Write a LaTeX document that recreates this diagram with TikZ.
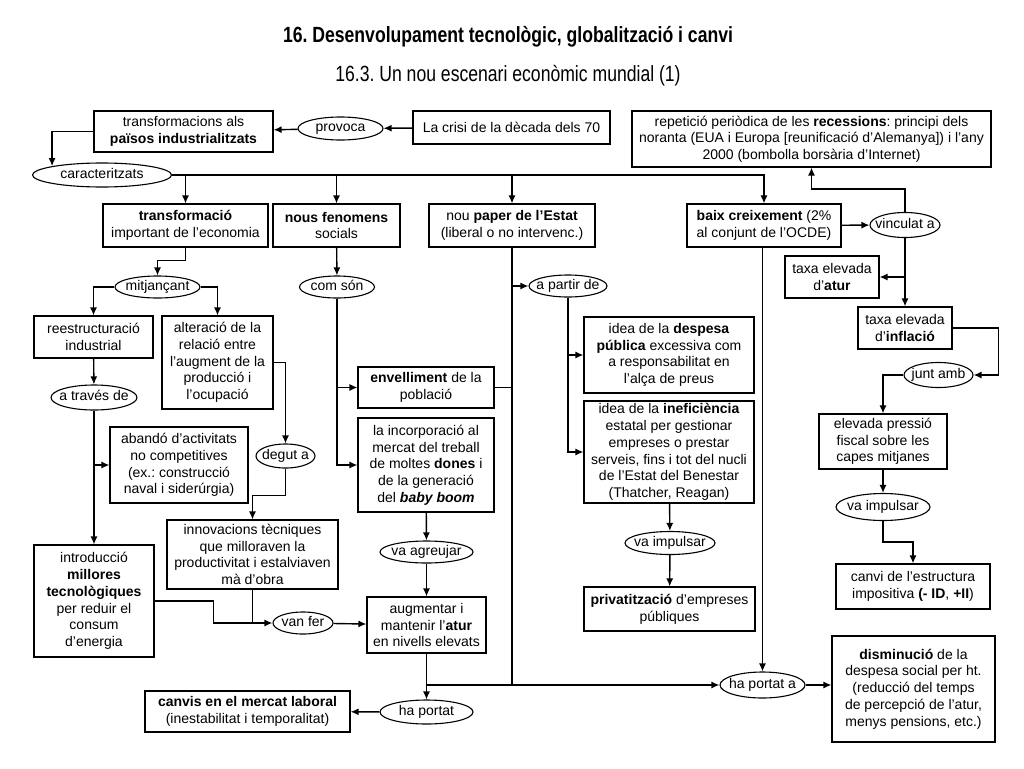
\documentclass[tikz,border=0pt]{standalone}
\usepackage{fontspec}
\setmainfont{Liberation Sans}
\usetikzlibrary{arrows.meta, shapes.geometric}
\newcommand{\otxt}[1]{\makebox[0pt]{#1}}
\frenchspacing

\begin{document}
\begin{tikzpicture}[x=1pt, y=-1pt,
    box/.style={rectangle, draw, line width=1.1pt, align=center, inner sep=2pt, font=\fontsize{14}{16.7}\selectfont},
    oval/.style={ellipse, draw, line width=1.1pt, inner sep=0pt, text height=9pt, text depth=3pt, font=\fontsize{14}{16.7}\selectfont},
    arr/.style={-{Latex[length=8pt, width=7pt]}, line width=1.4pt},
    link/.style={line width=1.4pt}]
        \fill[white] (0,0) rectangle (1024,768);
        \useasboundingbox (0,0) rectangle (1024,768);

        % Titles
        \node (title) at (508, 37) {\scalebox{0.8}[1]{\fontsize{22}{26}\selectfont\bfseries 16. Desenvolupament tecnològic, globalització i canvi}};
        \node (subtitle) at (508, 76) {\scalebox{0.8}[1]{\fontsize{22}{26}\selectfont 16.3. Un nou escenari econòmic mundial (1)}};

        % Nodes: top row
        \node (transf) [box, minimum width=179, minimum height=41] at (183.5, 131.5) {transformacions als\\\textbf{països industrialitzats}};
        \node (provoca) [oval, minimum width=85, minimum height=23] at (340.5, 128.5) {\otxt{provoca}};
        \node (crisi) [box, minimum width=197, minimum height=33] at (511.5, 127.5) {La crisi de la dècada dels 70};
        \node (recess) [box, minimum width=359, minimum height=56] at (811.5, 139) {repetició periòdica de les \textbf{recessions}: principi dels\\noranta (EUA i Europa [reunificació d’Alemanya]) i l’any\\2000 (bombolla borsària d’Internet)};
        \node (caract) [oval, minimum width=139, minimum height=24] at (102, 175) {\otxt{caracteritzats}};

        % Nodes: second row
        \node (econ) [box, minimum width=165, minimum height=43] at (185.5, 225.5) {\textbf{transformació}\\important de l'economia};
        \node (nous) [box, minimum width=127, minimum height=43] at (336.5, 225.5) {\textbf{nous fenomens}\\socials};
        \node (paper) [box, minimum width=166, minimum height=43] at (512, 225.5) {nou \textbf{paper de l’Estat}\\(liberal o no intervenc.)};
        \node (baix) [box, minimum width=154, minimum height=43] at (764, 225.5) {\textbf{baix creixement} (2\%\\al conjunt de l'OCDE)};
        \node (vinc) [oval, minimum width=70, minimum height=25] at (905, 225) {\otxt{vinculat a}};

        % Nodes: right column
        \node (atur) [box, minimum width=94, minimum height=42] at (832, 277) {taxa elevada\\d'\textbf{atur}};
        \node (infl) [box, minimum width=94, minimum height=42] at (905, 328) {taxa elevada\\d'\textbf{inflació}};
        \node (junt) [oval, minimum width=69, minimum height=25] at (938.5, 375) {\otxt{junt amb}};
        \node (press) [box, minimum width=128, minimum height=55] at (883, 441.5) {elevada pressió\\fiscal sobre les\\capes mitjanes};
        \node (vaimp2) [oval, minimum width=94, minimum height=27] at (883, 507) {\otxt{va impulsar}};
        \node (canvi) [box, minimum width=154, minimum height=45] at (913, 586.5) {canvi de l’estructura\\impositiva \textbf{(- ID}, \textbf{+II})};
        \node (dismin) [box, minimum width=163, minimum height=106] at (913.5, 689) {\textbf{disminució} de la\\despesa social per ht.\\(reducció del temps\\de percepció de l’atur,\\menys pensions, etc.)};
        \node (hapa) [oval, minimum width=85, minimum height=26] at (762.5, 685) {\otxt{ha portat a}};

        % Nodes: left column
        \node (mitj) [oval, minimum width=85, minimum height=22] at (157.5, 287) {\otxt{mitjançant}};
        \node (reestr) [box, minimum width=119, minimum height=42] at (93.5, 337) {reestructuració\\industrial};
        \node (alter) [box, minimum width=111, minimum height=93] at (217.5, 362.5) {alteració de la\\relació entre\\l’augment de la\\producció i\\l’ocupació};
        \node (atraves) [oval, minimum width=86, minimum height=25] at (94, 397.5) {\otxt{a través de}};
        \node (abando) [box, minimum width=138, minimum height=76] at (179, 465) {abandó d’activitats\\no competitives\\(ex.: construcció\\naval i siderúrgia)};
        \node (degut) [oval, minimum width=59, minimum height=24] at (285.5, 456) {\otxt{degut a}};
        \node (innov) [box, minimum width=171, minimum height=69] at (252.5, 554.5) {innovacions tècniques\\que milloraven la\\productivitat i estalviaven\\mà d’obra};
        \node (introd) [box, minimum width=120, minimum height=112] at (94, 601) {introducció\\\textbf{millores}\\\textbf{tecnològiques}\\per reduir el\\consum\\d’energia};
        \node (vanfer) [oval, minimum width=60, minimum height=22] at (303, 623) {\otxt{van fer}};
        \node (canvis) [box, minimum width=205, minimum height=41] at (247.5, 711.5) {\textbf{canvis en el mercat laboral}\\(inestabilitat i temporalitat)};

        % Nodes: middle columns
        \node (comson) [oval, minimum width=75, minimum height=22] at (337, 287) {\otxt{com són}};
        \node (envell) [box, minimum width=136, minimum height=41] at (426, 387.5) {\textbf{envelliment} de la\\població};
        \node (incorp) [box, minimum width=136, minimum height=94] at (426, 465) {la incorporació al\\mercat del treball\\de moltes \textbf{dones} i\\de la generació\\del \textbf{\textit{baby boom}}};
        \node (vaagr) [oval, minimum width=93, minimum height=22] at (426.5, 552) {\otxt{va agreujar}};
        \node (augm) [box, minimum width=119, minimum height=56] at (426.5, 625) {augmentar i\\mantenir l’\textbf{atur}\\en nivells elevats};
        \node (haport) [oval, minimum width=93, minimum height=24] at (426.5, 712) {\otxt{ha portat}};
        \node (apartir) [oval, minimum width=78, minimum height=22] at (568, 286) {\otxt{a partir de}};
        \node (desp) [box, minimum width=170, minimum height=76] at (669, 355) {idea de la \textbf{despesa}\\\textbf{pública} excessiva com\\a responsabilitat en\\l’alça de preus};
        \node (inef) [box, minimum width=170, minimum height=102] at (669, 452) {idea de la \textbf{ineficiència}\\estatal per gestionar\\empreses o prestar\\serveis, fins i tot del nucli\\de l’Estat del Benestar\\(Thatcher, Reagan)};
        \node (vaimp1) [oval, minimum width=90, minimum height=23] at (670, 543) {\otxt{va impulsar}};
        \node (priv) [box, minimum width=171, minimum height=44] at (669.5, 609) {\textbf{privatització} d’empreses\\públiques};

        % Edges: top
        \draw[arr] (crisi) -- (provoca);
        \draw[arr] (provoca) -- (transf);
        \draw[arr] (transf.west) -| (caract.170);
        \draw[arr] (caract.east) -| (baix.north);
        \draw[arr] (caract.east -| econ.north) -- (econ.north);
        \draw[arr] (caract.east -| nous.north) -- (nous.north);
        \draw[arr] (caract.east -| paper.north) -- (paper.north);

        % Edges: left
        \draw[arr] (econ.south) -- ++(0,13) -| (mitj.north);
        \draw[arr] (mitj.west) -| (reestr.north);
        \draw[arr] (mitj.east) -| (alter.north);
        \draw[arr] (reestr) -- (atraves);
        \draw[arr] (atraves.south) -- (introd.north);
        \draw[arr] (atraves.south |- abando.west) -- (abando.west);
        \draw[arr] (alter.east) -| (degut.north);
        \draw[arr] (degut.south) -- ++(0,27) -| (innov.north);
        \draw[arr] (introd.east) -- ++(59,0) |- (vanfer.west);
        \draw[link] (innov.south) -- (innov.south |- vanfer.west);
        \draw[arr] (vanfer) -- (augm);

        % Edges: middle
        \draw[arr] (nous) -- (comson);
        \draw[arr] (comson.south) |- (incorp.west);
        \draw[arr] (comson.south |- envell.west) -- (envell.west);
        \draw[link] (envell.east) -- (envell.east -| paper.south);
        \draw[arr] (incorp) -- (vaagr);
        \draw[arr] (vaagr) -- (augm);
        \draw[arr] (augm) -- (haport);
        \draw[arr] (haport) -- (canvis);
        \draw[link] (paper.south) -- (paper.south |- hapa.west);
        \draw[arr] (augm.south |- hapa.west) -- (hapa.west);
        \draw[arr] (paper.south |- apartir.west) -- (apartir.west);
        \draw[arr] (apartir.south) |- (inef.west);
        \draw[arr] (apartir.south |- desp.west) -- (desp.west);
        \draw[arr] (inef) -- (vaimp1);
        \draw[arr] (vaimp1) -- (priv);

        % Edges: right
        \draw[arr] (baix) -- (vinc);
        \draw[arr] (vinc.north) -- ++(0,-23) -| (recess.south);
        \draw[arr] (vinc) -- (infl);
        \draw[arr] (vinc.south |- atur.east) -- (atur.east);
        \draw[arr] (infl.east) -- ++(46,0) |- (junt.east);
        \draw[arr] (junt.west) -| (press.north);
        \draw[arr] (press) -- (vaimp2);
        \draw[arr] (vaimp2.south) -- ++(0,21) -| (canvi.north);
        \draw[arr] (baix.south -| hapa.north) -- (hapa.north);
        \draw[arr] (hapa.east) -- (hapa.east -| dismin.west);

    \end{tikzpicture}
\end{document}
